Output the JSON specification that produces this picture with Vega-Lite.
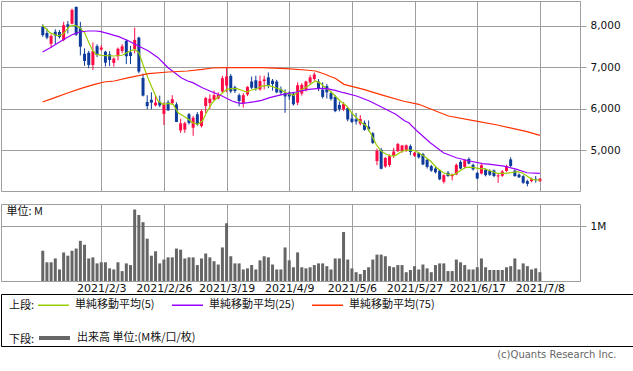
{
  "$schema": "https://vega.github.io/schema/vega-lite/v6.json",
  "padding": 0,
  "background": "white",
  "spacing": 13,
  "bounds": "flush",
  "config": {
    "view": {"stroke": "#9e9e9e", "strokeWidth": 1},
    "font": "DejaVu Sans",
    "axis": {"gridColor": "#9e9e9e", "gridWidth": 1, "gridOpacity": 1, "tickColor": "#9e9e9e", "labelFont": "DejaVu Sans", "labelColor": "#111111", "domain": false}
  },
  "title": {"text": "(c)Quants Research Inc.", "orient": "bottom", "anchor": "end", "font": "DejaVu Sans", "fontSize": 10, "fontWeight": "normal", "color": "#666666", "offset": 3, "dx": -17},
  "resolve": {"scale": {"color": "independent", "stroke": "independent"}, "legend": {"color": "independent", "stroke": "independent"}},
  "datasets": {
    "candles": [
      {"d":-14,"o":7975,"h":8040,"l":7740,"c":7780,"v":0.55},
      {"d":-13,"o":7830,"h":7940,"l":7680,"c":7720,"v":0.34},
      {"d":-12,"o":7570,"h":7800,"l":7470,"c":7760,"v":0.34},
      {"d":-11,"o":7860,"h":7920,"l":7560,"c":7770,"v":0.41},
      {"d":-10,"o":7855,"h":7900,"l":7700,"c":7735,"v":0.21},
      {"d":-9,"o":7660,"h":8100,"l":7630,"c":8020,"v":0.52},
      {"d":-8,"o":8040,"h":8120,"l":7820,"c":7985,"v":0.46},
      {"d":-7,"o":8055,"h":8420,"l":8040,"c":8385,"v":0.55},
      {"d":-6,"o":8460,"h":8470,"l":7760,"c":7790,"v":0.59},
      {"d":-5,"o":7945,"h":8100,"l":7290,"c":7500,"v":0.73},
      {"d":-4,"o":7330,"h":7460,"l":7040,"c":7155,"v":0.66},
      {"d":-3,"o":7355,"h":7400,"l":6980,"c":7060,"v":0.41},
      {"d":-2,"o":7060,"h":7600,"l":6940,"c":7395,"v":0.43},
      {"d":-1,"o":7515,"h":7560,"l":7250,"c":7300,"v":0.32},
      {"d":0,"o":7430,"h":7540,"l":7400,"c":7480,"v":0.34},
      {"d":1,"o":7380,"h":7400,"l":7020,"c":7115,"v":0.34},
      {"d":2,"o":7315,"h":7390,"l":7030,"c":7180,"v":0.23},
      {"d":3,"o":7110,"h":7240,"l":7020,"c":7215,"v":0.21},
      {"d":4,"o":7270,"h":7480,"l":7170,"c":7450,"v":0.34},
      {"d":5,"o":7400,"h":7560,"l":7340,"c":7510,"v":0.18},
      {"d":6,"o":7640,"h":7680,"l":7080,"c":7270,"v":0.32},
      {"d":7,"o":7365,"h":7520,"l":7080,"c":7275,"v":0.29},
      {"d":8,"o":7440,"h":7960,"l":7340,"c":7665,"v":1.30},
      {"d":9,"o":7720,"h":7740,"l":6860,"c":6900,"v":1.20},
      {"d":10,"o":6745,"h":6850,"l":6300,"c":6320,"v":1.07},
      {"d":11,"o":6165,"h":6330,"l":5990,"c":6068,"v":0.77},
      {"d":12,"o":6220,"h":6400,"l":5990,"c":6150,"v":0.46},
      {"d":13,"o":6085,"h":6310,"l":6060,"c":6150,"v":0.54},
      {"d":14,"o":6170,"h":6320,"l":6040,"c":6083,"v":0.32},
      {"d":15,"o":5880,"h":6160,"l":5610,"c":6108,"v":0.39},
      {"d":16,"o":6160,"h":6210,"l":5950,"c":5965,"v":0.43},
      {"d":17,"o":6140,"h":6330,"l":6110,"c":6232,"v":0.43},
      {"d":18,"o":6108,"h":6160,"l":5680,"c":5685,"v":0.59},
      {"d":19,"o":5480,"h":5760,"l":5420,"c":5650,"v":0.57},
      {"d":20,"o":5500,"h":5690,"l":5420,"c":5655,"v":0.41},
      {"d":21,"o":5870,"h":5900,"l":5620,"c":5660,"v":0.43},
      {"d":22,"o":5545,"h":5830,"l":5350,"c":5785,"v":0.43},
      {"d":23,"o":5870,"h":5920,"l":5590,"c":5625,"v":0.29},
      {"d":24,"o":5585,"h":5985,"l":5550,"c":5945,"v":0.41},
      {"d":25,"o":6070,"h":6290,"l":5900,"c":6260,"v":0.50},
      {"d":26,"o":6140,"h":6350,"l":6000,"c":6245,"v":0.43},
      {"d":27,"o":6220,"h":6440,"l":6200,"c":6330,"v":0.36},
      {"d":28,"o":6250,"h":6400,"l":6230,"c":6340,"v":0.30},
      {"d":29,"o":6420,"h":6800,"l":6380,"c":6740,"v":0.61},
      {"d":30,"o":6560,"h":7000,"l":6400,"c":6780,"v":1.05},
      {"d":31,"o":6795,"h":6840,"l":6380,"c":6420,"v":0.45},
      {"d":32,"o":6520,"h":6560,"l":6380,"c":6430,"v":0.32},
      {"d":33,"o":6330,"h":6370,"l":6060,"c":6190,"v":0.32},
      {"d":34,"o":6130,"h":6380,"l":6030,"c":6330,"v":0.21},
      {"d":35,"o":6350,"h":6550,"l":6310,"c":6530,"v":0.23},
      {"d":36,"o":6660,"h":6780,"l":6480,"c":6510,"v":0.29},
      {"d":37,"o":6690,"h":6800,"l":6440,"c":6500,"v":0.21},
      {"d":38,"o":6470,"h":6800,"l":6440,"c":6670,"v":0.375},
      {"d":39,"o":6670,"h":6800,"l":6470,"c":6710,"v":0.45},
      {"d":40,"o":6760,"h":6880,"l":6500,"c":6570,"v":0.43},
      {"d":41,"o":6680,"h":6720,"l":6440,"c":6600,"v":0.30},
      {"d":42,"o":6660,"h":6700,"l":6380,"c":6400,"v":0.21},
      {"d":43,"o":6470,"h":6540,"l":6330,"c":6390,"v":0.21},
      {"d":44,"o":6380,"h":6470,"l":5905,"c":6300,"v":0.61},
      {"d":45,"o":6390,"h":6420,"l":6220,"c":6300,"v":0.375},
      {"d":46,"o":6370,"h":6400,"l":6080,"c":6110,"v":0.25},
      {"d":47,"o":6150,"h":6640,"l":6090,"c":6570,"v":0.52},
      {"d":48,"o":6370,"h":6620,"l":6320,"c":6580,"v":0.25},
      {"d":49,"o":6460,"h":6680,"l":6420,"c":6660,"v":0.23},
      {"d":50,"o":6640,"h":6820,"l":6600,"c":6760,"v":0.25},
      {"d":51,"o":6720,"h":6880,"l":6680,"c":6830,"v":0.29},
      {"d":52,"o":6660,"h":6720,"l":6430,"c":6490,"v":0.32},
      {"d":53,"o":6460,"h":6640,"l":6250,"c":6290,"v":0.32},
      {"d":54,"o":6550,"h":6600,"l":6250,"c":6400,"v":0.27},
      {"d":55,"o":6380,"h":6420,"l":6200,"c":6240,"v":0.21},
      {"d":56,"o":6290,"h":6330,"l":5920,"c":5945,"v":0.41},
      {"d":57,"o":6095,"h":6180,"l":5940,"c":6000,"v":0.41},
      {"d":58,"o":5990,"h":6160,"l":5950,"c":6115,"v":0.89},
      {"d":59,"o":6020,"h":6050,"l":5700,"c":5745,"v":0.39},
      {"d":60,"o":5765,"h":5900,"l":5660,"c":5685,"v":0.23},
      {"d":61,"o":5750,"h":5900,"l":5620,"c":5695,"v":0.16},
      {"d":62,"o":5645,"h":5850,"l":5600,"c":5755,"v":0.125},
      {"d":63,"o":5665,"h":5720,"l":5470,"c":5495,"v":0.20},
      {"d":64,"o":5570,"h":5720,"l":5460,"c":5505,"v":0.25},
      {"d":65,"o":5410,"h":5440,"l":5150,"c":5180,"v":0.39},
      {"d":66,"o":4740,"h":5040,"l":4640,"c":4985,"v":0.48},
      {"d":67,"o":5010,"h":5060,"l":4540,"c":4555,"v":0.48},
      {"d":68,"o":4610,"h":4840,"l":4580,"c":4815,"v":0.45},
      {"d":69,"o":4645,"h":4900,"l":4600,"c":4860,"v":0.27},
      {"d":70,"o":4860,"h":5060,"l":4820,"c":4970,"v":0.25},
      {"d":71,"o":4980,"h":5180,"l":4960,"c":5150,"v":0.29},
      {"d":72,"o":4990,"h":5130,"l":4940,"c":5115,"v":0.29},
      {"d":73,"o":5000,"h":5140,"l":4960,"c":5120,"v":0.16},
      {"d":74,"o":5100,"h":5140,"l":4880,"c":4960,"v":0.20},
      {"d":75,"o":4870,"h":4960,"l":4840,"c":4940,"v":0.27},
      {"d":76,"o":4930,"h":4960,"l":4800,"c":4830,"v":0.21},
      {"d":77,"o":4910,"h":4940,"l":4640,"c":4660,"v":0.30},
      {"d":78,"o":4770,"h":4800,"l":4560,"c":4600,"v":0.23},
      {"d":79,"o":4620,"h":4650,"l":4480,"c":4510,"v":0.16},
      {"d":80,"o":4560,"h":4600,"l":4440,"c":4470,"v":0.29},
      {"d":81,"o":4510,"h":4540,"l":4280,"c":4300,"v":0.32},
      {"d":82,"o":4240,"h":4420,"l":4200,"c":4400,"v":0.32},
      {"d":83,"o":4460,"h":4500,"l":4360,"c":4380,"v":0.18},
      {"d":84,"o":4375,"h":4440,"l":4275,"c":4415,"v":0.18},
      {"d":85,"o":4420,"h":4680,"l":4400,"c":4650,"v":0.39},
      {"d":86,"o":4720,"h":4760,"l":4540,"c":4560,"v":0.34},
      {"d":87,"o":4600,"h":4780,"l":4560,"c":4760,"v":0.29},
      {"d":88,"o":4790,"h":4830,"l":4660,"c":4680,"v":0.21},
      {"d":89,"o":4650,"h":4680,"l":4510,"c":4540,"v":0.21},
      {"d":90,"o":4455,"h":4480,"l":4300,"c":4320,"v":0.25},
      {"d":91,"o":4440,"h":4680,"l":4420,"c":4640,"v":0.41},
      {"d":92,"o":4530,"h":4560,"l":4370,"c":4400,"v":0.25},
      {"d":93,"o":4500,"h":4540,"l":4380,"c":4410,"v":0.20},
      {"d":94,"o":4515,"h":4540,"l":4350,"c":4380,"v":0.20},
      {"d":95,"o":4370,"h":4450,"l":4215,"c":4395,"v":0.20},
      {"d":96,"o":4385,"h":4520,"l":4360,"c":4490,"v":0.20},
      {"d":97,"o":4500,"h":4650,"l":4480,"c":4620,"v":0.25},
      {"d":98,"o":4780,"h":4830,"l":4600,"c":4620,"v":0.27},
      {"d":99,"o":4510,"h":4540,"l":4360,"c":4380,"v":0.41},
      {"d":100,"o":4415,"h":4440,"l":4330,"c":4350,"v":0.21},
      {"d":101,"o":4375,"h":4400,"l":4190,"c":4215,"v":0.32},
      {"d":102,"o":4255,"h":4290,"l":4130,"c":4190,"v":0.27},
      {"d":103,"o":4255,"h":4340,"l":4230,"c":4315,"v":0.21},
      {"d":104,"o":4310,"h":4380,"l":4220,"c":4290,"v":0.23},
      {"d":105,"o":4255,"h":4330,"l":4240,"c":4315,"v":0.16}
    ],
    "ma": [
      {"d":-14.1,"ma":"5","v":8024},{"d":-12.3,"ma":"5","v":7840},{"d":-10.4,"ma":"5","v":7760},{"d":-9.2,"ma":"5","v":7800},{"d":-7.5,"ma":"5","v":8000},{"d":-6.3,"ma":"5","v":8017},{"d":-5.2,"ma":"5","v":7960},{"d":-4,"ma":"5","v":7840},{"d":-2.8,"ma":"5","v":7558},{"d":-2,"ma":"5","v":7396},{"d":-1.2,"ma":"5","v":7317},{"d":0,"ma":"5","v":7293},{"d":3,"ma":"5","v":7276},{"d":5,"ma":"5","v":7293},{"d":6.9,"ma":"5","v":7396},{"d":8,"ma":"5","v":7437},{"d":9,"ma":"5","v":7356},{"d":10.1,"ma":"5","v":7034},{"d":11.3,"ma":"5","v":6713},{"d":12.5,"ma":"5","v":6431},{"d":13.6,"ma":"5","v":6190},{"d":14.8,"ma":"5","v":6110},{"d":16,"ma":"5","v":6134},{"d":17.2,"ma":"5","v":6110},{"d":18.4,"ma":"5","v":5907},{"d":19.5,"ma":"5","v":5840},{"d":20.7,"ma":"5","v":5760},{"d":21.9,"ma":"5","v":5666},{"d":23.1,"ma":"5","v":5627},{"d":24.2,"ma":"5","v":5707},{"d":25.4,"ma":"5","v":5948},{"d":26.6,"ma":"5","v":6150},{"d":27.8,"ma":"5","v":6270},{"d":28.9,"ma":"5","v":6375},{"d":30.1,"ma":"5","v":6472},{"d":31.3,"ma":"5","v":6487},{"d":32.5,"ma":"5","v":6487},{"d":33.6,"ma":"5","v":6448},{"d":34.8,"ma":"5","v":6407},{"d":36,"ma":"5","v":6455},{"d":37.2,"ma":"5","v":6487},{"d":38.4,"ma":"5","v":6551},{"d":40.1,"ma":"5","v":6568},{"d":42.8,"ma":"5","v":6472},{"d":44.5,"ma":"5","v":6375},{"d":45.4,"ma":"5","v":6350},{"d":46.1,"ma":"5","v":6327},{"d":47.3,"ma":"5","v":6431},{"d":48.9,"ma":"5","v":6511},{"d":50.6,"ma":"5","v":6632},{"d":51.3,"ma":"5","v":6672},{"d":52.5,"ma":"5","v":6616},{"d":53.6,"ma":"5","v":6511},{"d":54.8,"ma":"5","v":6431},{"d":56,"ma":"5","v":6310},{"d":57.2,"ma":"5","v":6190},{"d":58.75,"ma":"5","v":6069},{"d":59.9,"ma":"5","v":5907},{"d":61.1,"ma":"5","v":5786},{"d":62.3,"ma":"5","v":5666},{"d":63.5,"ma":"5","v":5586},{"d":64.6,"ma":"5","v":5385},{"d":65.8,"ma":"5","v":5144},{"d":67,"ma":"5","v":4983},{"d":68.2,"ma":"5","v":4903},{"d":69.3,"ma":"5","v":4862},{"d":70.5,"ma":"5","v":4879},{"d":71.7,"ma":"5","v":4958},{"d":72.9,"ma":"5","v":5007},{"d":74.8,"ma":"5","v":5000},{"d":76,"ma":"5","v":4942},{"d":77.2,"ma":"5","v":4862},{"d":78.8,"ma":"5","v":4741},{"d":80.3,"ma":"5","v":4580},{"d":81.9,"ma":"5","v":4459},{"d":83.5,"ma":"5","v":4403},{"d":84.6,"ma":"5","v":4420},{"d":85.8,"ma":"5","v":4500},{"d":87,"ma":"5","v":4580},{"d":88.2,"ma":"5","v":4596},{"d":89.3,"ma":"5","v":4580},{"d":90.5,"ma":"5","v":4556},{"d":91.7,"ma":"5","v":4556},{"d":93.2,"ma":"5","v":4500},{"d":94.8,"ma":"5","v":4444},{"d":96.4,"ma":"5","v":4444},{"d":98,"ma":"5","v":4459},{"d":99.5,"ma":"5","v":4483},{"d":100.7,"ma":"5","v":4459},{"d":101.9,"ma":"5","v":4379},{"d":103.1,"ma":"5","v":4299},{"d":104.2,"ma":"5","v":4283},{"d":105,"ma":"5","v":4280},
      {"d":-14.05,"ma":"25","v":7372},{"d":-12.2,"ma":"25","v":7476},{"d":-10.3,"ma":"25","v":7597},{"d":-8.3,"ma":"25","v":7718},{"d":-6.75,"ma":"25","v":7799},{"d":-5.2,"ma":"25","v":7855},{"d":-3.2,"ma":"25","v":7879},{"d":-1.25,"ma":"25","v":7879},{"d":-0.07,"ma":"25","v":7862},{"d":1.5,"ma":"25","v":7823},{"d":3.1,"ma":"25","v":7775},{"d":4.2,"ma":"25","v":7742},{"d":6.6,"ma":"25","v":7638},{"d":8.9,"ma":"25","v":7517},{"d":11.3,"ma":"25","v":7396},{"d":13.6,"ma":"25","v":7235},{"d":14.8,"ma":"25","v":7114},{"d":16,"ma":"25","v":6993},{"d":17.6,"ma":"25","v":6873},{"d":19.1,"ma":"25","v":6752},{"d":20.7,"ma":"25","v":6672},{"d":21.9,"ma":"25","v":6632},{"d":24.2,"ma":"25","v":6511},{"d":26.6,"ma":"25","v":6407},{"d":28.9,"ma":"25","v":6310},{"d":31.3,"ma":"25","v":6190},{"d":32.5,"ma":"25","v":6149},{"d":33.6,"ma":"25","v":6134},{"d":35.2,"ma":"25","v":6149},{"d":36.8,"ma":"25","v":6173},{"d":38.4,"ma":"25","v":6206},{"d":40.3,"ma":"25","v":6270},{"d":43.5,"ma":"25","v":6351},{"d":46.6,"ma":"25","v":6407},{"d":49.7,"ma":"25","v":6472},{"d":52.1,"ma":"25","v":6496},{"d":54,"ma":"25","v":6487},{"d":56,"ma":"25","v":6448},{"d":58,"ma":"25","v":6390},{"d":61.1,"ma":"25","v":6310},{"d":64.2,"ma":"25","v":6190},{"d":67.4,"ma":"25","v":6028},{"d":70.5,"ma":"25","v":5868},{"d":72.5,"ma":"25","v":5720},{"d":73.6,"ma":"25","v":5666},{"d":75.6,"ma":"25","v":5465},{"d":78.75,"ma":"25","v":5183},{"d":81.9,"ma":"25","v":4942},{"d":85,"ma":"25","v":4821},{"d":88.2,"ma":"25","v":4741},{"d":91.3,"ma":"25","v":4677},{"d":93.2,"ma":"25","v":4661},{"d":96.4,"ma":"25","v":4620},{"d":99.5,"ma":"25","v":4540},{"d":101.9,"ma":"25","v":4459},{"d":105,"ma":"25","v":4444},
      {"d":-14.05,"ma":"75","v":6165},{"d":-11.1,"ma":"75","v":6270},{"d":-7.9,"ma":"75","v":6390},{"d":-4.8,"ma":"75","v":6496},{"d":-1.6,"ma":"75","v":6592},{"d":0.7,"ma":"75","v":6648},{"d":3.1,"ma":"75","v":6672},{"d":6.6,"ma":"75","v":6752},{"d":11.3,"ma":"75","v":6849},{"d":16,"ma":"75","v":6890},{"d":20.7,"ma":"75","v":6914},{"d":24.2,"ma":"75","v":6954},{"d":26.6,"ma":"75","v":6986},{"d":29.6,"ma":"75","v":6993},{"d":38.4,"ma":"75","v":6993},{"d":44.2,"ma":"75","v":6970},{"d":48.9,"ma":"75","v":6938},{"d":51.3,"ma":"75","v":6914},{"d":53.6,"ma":"75","v":6834},{"d":54.8,"ma":"75","v":6780},{"d":56,"ma":"75","v":6740},{"d":58.1,"ma":"75","v":6592},{"d":62.8,"ma":"75","v":6472},{"d":67.5,"ma":"75","v":6327},{"d":72.2,"ma":"75","v":6190},{"d":76,"ma":"75","v":6110},{"d":83.1,"ma":"75","v":5827},{"d":90.1,"ma":"75","v":5700},{"d":94.8,"ma":"75","v":5610},{"d":99.5,"ma":"75","v":5506},{"d":101.9,"ma":"75","v":5449},{"d":105,"ma":"75","v":5362}
    ]
  },
  "vconcat": [
    {
      "width": 579,
      "height": 190,
      "layer": [
        {
          "data": {"name": "candles"},
          "mark": {"type": "rule", "strokeWidth": 1},
          "encoding": {
            "x": {"field": "d", "type": "quantitative", "scale": {"domain": [-22.8, 113.4], "nice": false, "zero": false},
                  "axis": {"title": null, "values": [0, 15, 30, 45, 60, 75, 90, 105], "labels": false, "ticks": false, "grid": true, "domain": false}},
            "y": {"field": "l", "type": "quantitative", "scale": {"domain": [4018, 8603], "nice": false, "zero": false},
                  "axis": {"title": null, "orient": "right", "values": [5000, 6000, 7000, 8000], "labelExpr": "format(datum.value, ',')", "grid": true, "tickSize": 6, "labelPadding": 4, "labelFontSize": 10.5, "domain": false}},
            "y2": {"field": "h"},
            "color": {"condition": {"test": "datum.c >= datum.o", "value": "#ff0a45"}, "value": "#0d3a9b"}
          }
        },
        {
          "data": {"name": "candles"},
          "mark": {"type": "bar", "width": 3},
          "encoding": {
            "x": {"field": "d", "type": "quantitative"},
            "y": {"field": "o", "type": "quantitative"},
            "y2": {"field": "c"},
            "color": {"condition": {"test": "datum.c >= datum.o", "value": "#ff0a45"}, "value": "#0d3a9b"}
          }
        },
        {
          "data": {"name": "ma"},
          "mark": {"type": "line", "strokeWidth": 1.2},
          "encoding": {
            "x": {"field": "d", "type": "quantitative"},
            "y": {"field": "v", "type": "quantitative"},
            "color": {"field": "ma", "type": "nominal", "scale": {"domain": ["75", "25", "5"], "range": ["#ff3300", "#9900ff", "#99cc00"]}, "legend": null}
          }
        }
      ]
    },
    {
      "width": 579,
      "height": 77,
      "data": {"name": "candles"},
      "mark": {"type": "bar", "width": 3, "color": "#666666"},
      "encoding": {
        "x": {"field": "d", "type": "quantitative", "scale": {"domain": [-22.8, 113.4], "nice": false, "zero": false},
              "axis": {"title": null, "values": [0, 15, 30, 45, 60, 75, 90, 105], "grid": true, "ticks": false, "domain": false,
                       "labelExpr": "['2021/2/3','2021/2/26','2021/3/19','2021/4/9','2021/5/6','2021/5/27','2021/6/17','2021/7/8'][round(datum.value/15)]",
                       "labelFontSize": 11, "labelPadding": 1, "labelFlush": false, "labelOverlap": false}},
        "y": {"field": "v", "type": "quantitative", "scale": {"domain": [0, 1.4], "nice": false},
              "axis": {"orient": "right", "values": [1], "labelExpr": "'1M'", "grid": true, "tickSize": 6, "labelPadding": 4, "labelFontSize": 10.5, "domain": false,
                       "title": "単位: M", "titleAngle": 0, "titleAlign": "left", "titleBaseline": "middle", "titleX": -574, "titleY": 7,
                       "titleFont": "Noto Sans CJK JP", "titleFontSize": 11, "titleFontWeight": "normal", "titleColor": "#111111"}}
      }
    },
    {
      "width": 632,
      "height": 52,
      "view": {"stroke": "#000000", "strokeWidth": 1},
      "layer": [
        {
          "data": {"values": [{"s": "単純移動平均(5)"}, {"s": "単純移動平均(25)"}, {"s": "単純移動平均(75)"}]},
          "mark": {"type": "line"},
          "encoding": {
            "color": {"field": "s", "type": "nominal",
                      "scale": {"domain": ["単純移動平均(5)", "単純移動平均(25)", "単純移動平均(75)"], "range": ["#99cc00", "#9900ff", "#ff3300"]},
                      "legend": {"title": "上段:", "orient": "none", "legendX": 8, "legendY": -5.5, "direction": "horizontal", "titleOrient": "left",
                                 "titleAnchor": "middle", "titleBaseline": "top",
                                 "titleFont": "Noto Sans CJK JP", "titleFontSize": 11, "titleFontWeight": "normal", "titleColor": "#111111", "titlePadding": 2,
                                 "labelFont": "Noto Sans CJK JP", "labelFontSize": 11, "labelColor": "#111111", "labelOffset": 5, "labelLimit": 300,
                                 "symbolType": "stroke", "symbolSize": 961, "symbolStrokeWidth": 1.5, "columnPadding": 14, "padding": 0}}
          }
        },
        {
          "data": {"values": [{"s": "出来高 単位:(M株/口/枚)"}]},
          "mark": {"type": "line"},
          "encoding": {
            "stroke": {"field": "s", "type": "nominal", "scale": {"range": ["#666666"]},
                       "legend": {"title": "下段:", "orient": "none", "legendX": 8, "legendY": 26.5, "direction": "horizontal", "titleOrient": "left",
                                  "titleAnchor": "middle", "titleBaseline": "top",
                                  "titleFont": "Noto Sans CJK JP", "titleFontSize": 11, "titleFontWeight": "normal", "titleColor": "#111111", "titlePadding": 2,
                                  "labelFont": "Noto Sans CJK JP", "labelFontSize": 11, "labelColor": "#111111", "labelOffset": 5, "labelLimit": 300,
                                  "symbolType": "stroke", "symbolSize": 961, "symbolStrokeWidth": 4, "padding": 0}}
          }
        }
      ]
    }
  ]
}
